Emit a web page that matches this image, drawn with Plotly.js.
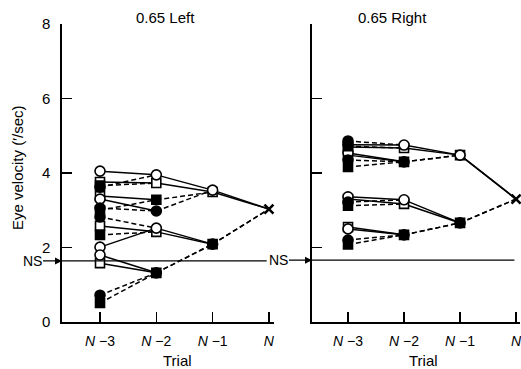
<!DOCTYPE html>
<html><head><meta charset="utf-8">
<script src="https://cdn.plot.ly/plotly-3.0.1.min.js"></script>
<style>html,body{margin:0;padding:0;background:#fff}#chart{width:521px;height:369px}</style>
</head><body><div id="chart"></div>
<script>
// Trials on the x axis
const trialTicks = [1, 2, 3, 4];
const trialLabels = ['<i>N</i> −3', '<i>N</i> −2', '<i>N</i> −1', '<i>N</i>'];
const yTicks = [0, 2, 4, 6, 8];

// 0.65 Left panel: eye velocity ('/sec); index parity: even = open symbol, odd = filled symbol
const leftCircN3 = [4.05, 3.62, 3.30, 3.06, 2.01, 2.82, 1.80, 0.72];
const leftSqN3   = [3.76, 3.66, 3.38, 3.00, 2.58, 2.34, 1.58, 0.51];
const leftCircN2 = [3.95, 2.98, 2.52, 1.32];
const leftSqN2   = [3.73, 3.28, 2.42, 1.32];
const leftCircN1 = [3.54, 2.09];
const leftSqN1   = [3.49, 2.09];
const leftN = 3.03;
const leftNS = 1.64;

// 0.65 Right panel
const rightCircN3 = [4.76, 4.86, 4.54, 4.35, 3.36, 3.22, 2.50, 2.20];
const rightSqN3   = [4.70, 4.72, 4.48, 4.16, 3.30, 3.12, 2.55, 2.08];
const rightCircN2 = [4.75, 4.30, 3.28, 2.34];
const rightSqN2   = [4.67, 4.30, 3.17, 2.34];
const rightCircN1 = [4.48, 2.66];
const rightSqN1   = [4.48, 2.66];
const rightN = 3.30;
const rightNS = 1.66;

const FONT = 'Liberation Sans, Arial, Helvetica, sans-serif';

function buildPanel(circ, sq, vN, xa, ya) {
  const solid = {x: [], y: []}, dashed = {x: [], y: []};
  const mk = {oc: {x: [], y: []}, os: {x: [], y: []}, fc: {x: [], y: []}, fs: {x: [], y: []}};
  [circ, sq].forEach((series, si) => {
    for (let lvl = 0; lvl < 3; lvl++) {
      const arr = series[lvl];
      arr.forEach((v, i) => {
        const next = lvl < 2 ? series[lvl + 1][Math.floor(i / 2)] : vN;
        const tgt = (i % 2 === 0) ? solid : dashed;
        tgt.x.push(trialTicks[lvl], trialTicks[lvl + 1], null);
        tgt.y.push(v, next, null);
        const key = (i % 2 === 0 ? 'o' : 'f') + (si === 0 ? 'c' : 's');
        mk[key].x.push(trialTicks[lvl]);
        mk[key].y.push(v);
      });
    }
  });
  const base = {xaxis: xa, yaxis: ya, hoverinfo: 'skip', cliponaxis: false};
  const line = (d, dash) => Object.assign({}, base, {type: 'scatter', mode: 'lines', x: d.x, y: d.y,
    connectgaps: false, line: {color: '#000', width: 1.5, dash: dash}});
  const marks = (d, sym, fill, size) => Object.assign({}, base, {type: 'scatter', mode: 'markers', x: d.x, y: d.y,
    marker: {symbol: sym, size: size, color: fill, line: {color: '#000', width: 1.6}}});
  return [
    line(solid, 'solid'),
    line(dashed, '5px,3px'),
    marks(mk.os, 'square', '#fff', 9),
    marks(mk.oc, 'circle', '#fff', 10),
    marks(mk.fs, 'square', '#000', 9),
    marks(mk.fc, 'circle', '#000', 10),
    Object.assign({}, base, {type: 'scatter', mode: 'markers', x: [trialTicks[3]], y: [vN],
      marker: {symbol: 'x-thin', size: 9, color: '#000', line: {color: '#000', width: 2.6}}})
  ];
}

const data = [].concat(
  buildPanel([leftCircN3, leftCircN2, leftCircN1], [leftSqN3, leftSqN2, leftSqN1], leftN, 'x', 'y'),
  buildPanel([rightCircN3, rightCircN2, rightCircN1], [rightSqN3, rightSqN2, rightSqN1], rightN, 'x2', 'y2')
);

const W = 521, H = 369;
const yDom = [(H - 322) / H, (H - 24) / H];
const xAxisBase = {showline: true, linecolor: '#000', linewidth: 1.6, ticks: 'inside', ticklen: 10, tickwidth: 1.6,
  tickcolor: '#000', tickvals: trialTicks, ticktext: trialLabels, showgrid: false, zeroline: false,
  tickfont: {family: FONT, size: 14, color: '#000'}, ticklabelstandoff: 6, ticklabeloverflow: 'allow', fixedrange: true};
const yAxisBase = {showline: true, linecolor: '#000', linewidth: 1.6, ticks: 'inside', ticklen: 10, tickwidth: 1.6,
  tickcolor: '#000', tickvals: yTicks, range: [0, 8], showgrid: false, zeroline: false, domain: yDom,
  tickfont: {family: FONT, size: 15, color: '#000'}, ticklabelstandoff: 7, fixedrange: true};

const layout = {
  width: W, height: H, margin: {l: 0, r: 0, t: 0, b: 0},
  paper_bgcolor: '#fff', plot_bgcolor: 'rgba(0,0,0,0)', showlegend: false,
  font: {family: FONT, color: '#000'},
  xaxis: Object.assign({}, xAxisBase, {domain: [62 / W, 274 / W], range: [0.325, 4.09], anchor: 'y'}),
  yaxis: Object.assign({}, yAxisBase, {anchor: 'x'}),
  xaxis2: Object.assign({}, xAxisBase, {domain: [312 / W, 520 / W], range: [0.357, 4.07], anchor: 'y2'}),
  yaxis2: Object.assign({}, yAxisBase, {anchor: 'x2', showticklabels: false}),
  shapes: [
    {type: 'line', xref: 'x', yref: 'y', x0: 0.325, x1: 3.96, y0: leftNS, y1: leftNS, line: {color: '#000', width: 1.4}},
    {type: 'line', xref: 'x2', yref: 'y2', x0: 0.357, x1: 3.97, y0: rightNS, y1: rightNS, line: {color: '#000', width: 1.4}}
  ],
  annotations: [
    {text: '0.65 Left', xref: 'paper', yref: 'paper', x: 165 / W, y: 1 - 17 / H, showarrow: false,
      font: {size: 15, family: FONT}, xanchor: 'center', yanchor: 'middle'},
    {text: '0.65 Right', xref: 'paper', yref: 'paper', x: 392 / W, y: 1 - 17 / H, showarrow: false,
      font: {size: 15, family: FONT}, xanchor: 'center', yanchor: 'middle'},
    {text: 'Trial', xref: 'paper', yref: 'paper', x: 177 / W, y: 1 - 360 / H, showarrow: false,
      font: {size: 15, family: FONT}, xanchor: 'center', yanchor: 'middle'},
    {text: 'Trial', xref: 'paper', yref: 'paper', x: 423 / W, y: 1 - 360 / H, showarrow: false,
      font: {size: 15, family: FONT}, xanchor: 'center', yanchor: 'middle'},
    {text: "Eye velocity (′/sec)", xref: 'paper', yref: 'paper', x: 17 / W, y: 1 - 168 / H, showarrow: false,
      textangle: -90, font: {size: 15, family: FONT}, xanchor: 'center', yanchor: 'middle'},
    {text: 'NS', xref: 'paper', yref: 'y', x: 62 / W, y: leftNS, ax: -30, ay: 0, showarrow: true,
      arrowhead: 2, arrowsize: 1, arrowwidth: 1.4, arrowcolor: '#000', standoff: 0, startstandoff: 0,
      font: {size: 14, family: FONT}},
    {text: 'NS', xref: 'paper', yref: 'y2', x: 312 / W, y: rightNS, ax: -34, ay: 0, showarrow: true,
      arrowhead: 2, arrowsize: 1, arrowwidth: 1.4, arrowcolor: '#000', standoff: 0, startstandoff: 0,
      font: {size: 14, family: FONT}}
  ]
};

Plotly.newPlot('chart', data, layout, {displayModeBar: false, staticPlot: true});
</script>
</body></html>
